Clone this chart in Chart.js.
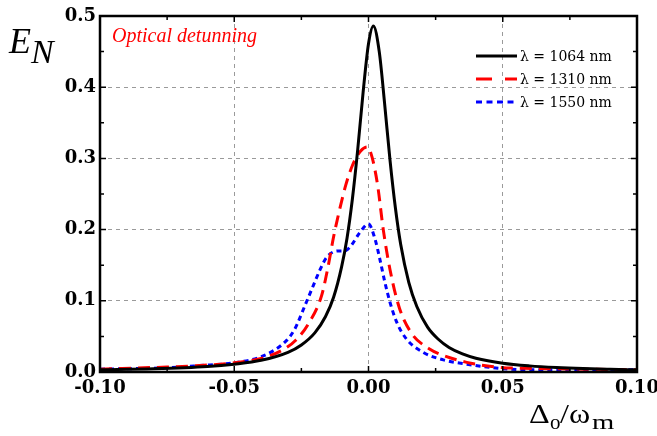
<!DOCTYPE html>
<html>
<head>
<meta charset="utf-8">
<script src="https://cdn.jsdelivr.net/npm/chart.js@4.4.0/dist/chart.umd.min.js"></script>
<style>
  html, body { margin: 0; padding: 0; background: #fff; }
  #wrap { width: 657px; height: 436px; }
</style>
</head>
<body>
<div id="wrap"><canvas id="canvas" width="657" height="436"></canvas></div>
<script>
// values (x = detuning, y = E_N)
var seriesNames = ['\u03bb = 1064 nm', '\u03bb = 1310 nm', '\u03bb = 1550 nm'];

var blackX = [-0.1, -0.08, -0.06, -0.05, -0.04, -0.03, -0.025, -0.02, -0.016, -0.013, -0.01, -0.008,
	-0.006, -0.004, -0.002, 0.0, 0.0018, 0.004, 0.006, 0.008, 0.01, 0.012, 0.015, 0.018,
	0.022, 0.026, 0.03, 0.035, 0.04, 0.05, 0.06, 0.07, 0.08, 0.09, 0.1];
var blackY = [0.003, 0.0044, 0.0076, 0.011, 0.0164, 0.0276, 0.038, 0.055, 0.078, 0.105, 0.148, 0.188,
	0.243, 0.313, 0.393, 0.461, 0.486, 0.45, 0.377, 0.298, 0.231, 0.179, 0.126, 0.092,
	0.063, 0.046, 0.0345, 0.0254, 0.0194, 0.0124, 0.0086, 0.0063, 0.0048, 0.0038, 0.003];

var redX = [-0.1, -0.075, -0.063, -0.05, -0.04, -0.032, -0.027, -0.0225, -0.0175, -0.015, -0.013, -0.0107,
	-0.0085, -0.006, -0.003, -0.0005, 0.001, 0.0024, 0.0036, 0.0055, 0.008, 0.0115, 0.0161, 0.0229,
	0.0266, 0.0366, 0.049, 0.061, 0.08, 0.1];
var redY = [0.004, 0.007, 0.009, 0.013, 0.019, 0.031, 0.045, 0.067, 0.107, 0.149, 0.19, 0.229,
	0.262, 0.29, 0.31, 0.316, 0.306, 0.284, 0.257, 0.2, 0.144, 0.09, 0.054, 0.032,
	0.025, 0.0135, 0.0065, 0.005, 0.004, 0.003];

var blueX = [-0.1, -0.075, -0.063, -0.05, -0.039, -0.0306, -0.0275, -0.0237, -0.0206, -0.018, -0.0156, -0.0113,
	-0.009, -0.007, -0.0032, 0.0, 0.0024, 0.0042, 0.0061, 0.008, 0.0105, 0.0142, 0.0204, 0.0279,
	0.0366, 0.049, 0.06, 0.08, 0.1];
var blueY = [0.004, 0.006, 0.009, 0.013, 0.023, 0.044, 0.06, 0.093, 0.121, 0.144, 0.161, 0.17,
	0.17, 0.175, 0.196, 0.208, 0.187, 0.159, 0.126, 0.098, 0.07, 0.046, 0.0275, 0.017,
	0.011, 0.005, 0.003, 0.003, 0.003];

var xTickLabels = ['-0.10', '-0.05', '0.00', '0.05', '0.10'];
var yTickLabels = ['0.0', '0.1', '0.2', '0.3', '0.4', '0.5'];

function pts(xs, ys) {
	var out = [];
	for (var i = 0; i < xs.length; i++) out.push({x: xs[i], y: ys[i]});
	return out;
}

var tickFont = {family: 'DejaVu Serif', weight: 'bold', size: 18};

// draws text stretched sideways, like the source picture
function wideText(ctx, txt, x, y, font, sx) {
	ctx.save();
	ctx.font = font;
	ctx.translate(x, y);
	ctx.scale(sx, 1);
	ctx.fillText(txt, 0, 0);
	ctx.restore();
}

// inward ticks, frame, legend and axis titles
var framePlugin = {
	id: 'frame',
	afterDraw: function(chart) {
		var ctx = chart.ctx, a = chart.chartArea;
		var xs = chart.scales.x, ys = chart.scales.y;
		ctx.save();
		ctx.strokeStyle = '#000';
		ctx.lineWidth = 1.5;
		ctx.beginPath();
		for (var i = 0; i <= 8; i++) {
			var v = -0.1 + i * 0.025;
			var px = xs.getPixelForValue(v);
			var len = (i % 2 == 0) ? 6 : 4;
			ctx.moveTo(px, a.bottom); ctx.lineTo(px, a.bottom - len);
			ctx.moveTo(px, a.top); ctx.lineTo(px, a.top + len);
		}
		for (var j = 0; j <= 10; j++) {
			var py = ys.getPixelForValue(j * 0.05);
			var l2 = (j % 2 == 0) ? 6 : 4;
			ctx.moveTo(a.left, py); ctx.lineTo(a.left + l2, py);
			ctx.moveTo(a.right, py); ctx.lineTo(a.right - l2, py);
		}
		ctx.stroke();

		ctx.lineWidth = 2.5;
		ctx.strokeRect(a.left, a.top, a.right - a.left, a.bottom - a.top);

		// legend
		var legendDash = [[], [16, 13], [6, 4.5]];
		chart.data.datasets.forEach(function(ds, k) {
			var ly = 56 + k * 23;
			ctx.beginPath();
			ctx.setLineDash(legendDash[k]);
			ctx.strokeStyle = ds.borderColor;
			ctx.lineWidth = 3;
			ctx.moveTo(476, ly); ctx.lineTo(517, ly);
			ctx.stroke();
			ctx.setLineDash([]);
			ctx.fillStyle = '#000';
			ctx.font = '14px "DejaVu Serif"';
			ctx.textBaseline = 'middle';
			ctx.fillText(ds.label, 520, ly + 1);
		});

		// annotation
		ctx.textBaseline = 'alphabetic';
		ctx.fillStyle = '#ff0000';
		ctx.font = 'italic 20px "Liberation Serif"';
		ctx.fillText('Optical detunning', 112, 42);

		// y title
		ctx.fillStyle = '#000';
		ctx.font = 'italic 36px "Liberation Serif"';
		ctx.fillText('E', 9, 53);
		ctx.font = 'italic 34px "Liberation Serif"';
		ctx.fillText('N', 31, 63);

		// x title
		wideText(ctx, '\u0394', 529, 423, '28px "Liberation Serif"', 1.15);
		wideText(ctx, 'o', 550, 429, '21px "Liberation Serif"', 1.0);
		wideText(ctx, '/', 560, 423, '28px "Liberation Serif"', 1.15);
		wideText(ctx, '\u03c9', 569, 423, '28px "Liberation Serif"', 1.15);
		wideText(ctx, 'm', 592, 429, '22px "Liberation Serif"', 1.3);
		ctx.restore();
	}
};

var ctx = document.getElementById('canvas').getContext('2d');
window.myChart = new Chart(ctx, {
	type: 'line',
	data: {
		datasets: [{
			label: seriesNames[0],
			data: pts(blackX, blackY),
			borderColor: '#000000',
			borderWidth: 3,
			pointRadius: 0,
			cubicInterpolationMode: 'monotone',
			fill: false
		}, {
			label: seriesNames[1],
			data: pts(redX, redY),
			borderColor: '#ff0000',
			borderWidth: 3,
			borderDash: [12, 7],
			pointRadius: 0,
			cubicInterpolationMode: 'monotone',
			fill: false
		}, {
			label: seriesNames[2],
			data: pts(blueX, blueY),
			borderColor: '#0000ff',
			borderWidth: 3,
			borderDash: [5, 4],
			pointRadius: 0,
			cubicInterpolationMode: 'monotone',
			fill: false
		}]
	},
	options: {
		responsive: false,
		animation: false,
		layout: {padding: {top: 16, right: 20, left: 0, bottom: 0}},
		plugins: {
			legend: {display: false},
			tooltip: {enabled: false}
		},
		scales: {
			x: {
				type: 'linear',
				min: -0.1,
				max: 0.1,
				afterFit: function(s) { s.height = 64; s.paddingLeft = 0; s.paddingRight = 0; },
				ticks: {
					stepSize: 0.05,
					maxRotation: 0,
					autoSkip: false,
					padding: 6,
					color: '#000',
					font: tickFont,
					callback: function(v, i) { return xTickLabels[i]; }
				},
				grid: {color: '#9a9a9a', lineWidth: 1, drawTicks: false},
				border: {display: false, dash: [4, 4]}
			},
			y: {
				min: 0,
				max: 0.5,
				afterFit: function(s) { s.width = 100; },
				ticks: {
					stepSize: 0.1,
					padding: 4,
					color: '#000',
					font: tickFont,
					callback: function(v, i) { return yTickLabels[i]; }
				},
				grid: {color: '#9a9a9a', lineWidth: 1, drawTicks: false},
				border: {display: false, dash: [4, 4]}
			}
		}
	},
	plugins: [framePlugin]
});
</script>
</body>
</html>
